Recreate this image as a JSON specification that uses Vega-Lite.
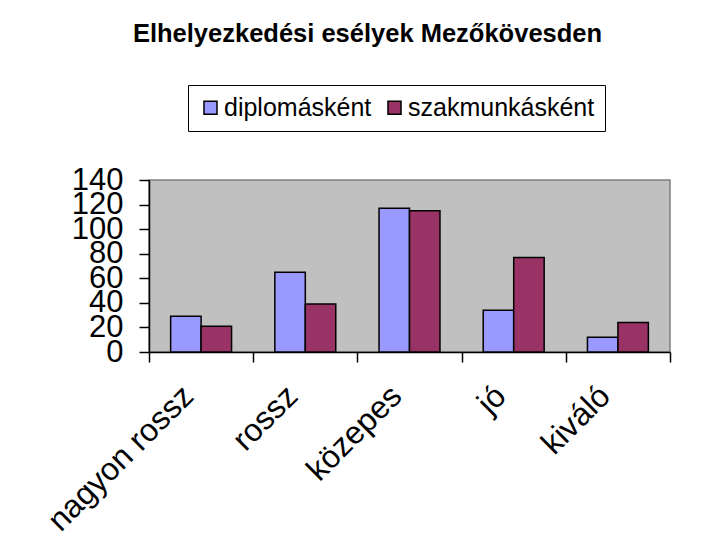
{
  "$schema": "https://vega.github.io/schema/vega-lite/v6.json",
  "width": 521,
  "height": 172,
  "autosize": {"type": "none"},
  "padding": {"left": 149, "top": 180, "right": 54, "bottom": 202},
  "background": "white",
  "title": {
    "text": "Elhelyezkedési esélyek Mezőkövesden",
    "font": "Liberation Sans",
    "fontSize": 25.5,
    "fontWeight": "bold",
    "color": "black",
    "anchor": "middle",
    "baseline": "alphabetic",
    "dx": -42,
    "offset": 17
  },
  "data": {
    "values": [
      {"kategoria": "nagyon rossz", "sorozat": "diplomásként", "ertek": 29},
      {"kategoria": "nagyon rossz", "sorozat": "szakmunkásként", "ertek": 21},
      {"kategoria": "rossz", "sorozat": "diplomásként", "ertek": 65},
      {"kategoria": "rossz", "sorozat": "szakmunkásként", "ertek": 39},
      {"kategoria": "közepes", "sorozat": "diplomásként", "ertek": 117},
      {"kategoria": "közepes", "sorozat": "szakmunkásként", "ertek": 115},
      {"kategoria": "jó", "sorozat": "diplomásként", "ertek": 34},
      {"kategoria": "jó", "sorozat": "szakmunkásként", "ertek": 77},
      {"kategoria": "kiváló", "sorozat": "diplomásként", "ertek": 12},
      {"kategoria": "kiváló", "sorozat": "szakmunkásként", "ertek": 24}
    ]
  },
  "mark": {"type": "bar", "stroke": "black", "strokeWidth": 1.5},
  "encoding": {
    "x": {
      "field": "kategoria",
      "type": "nominal",
      "sort": ["nagyon rossz", "rossz", "közepes", "jó", "kiváló"],
      "scale": {"paddingInner": 0, "paddingOuter": 0},
      "axis": {
        "title": null,
        "tickBand": "extent",
        "labelAngle": -45,
        "labelAlign": "right",
        "labelBaseline": "top",
        "labelFont": "Liberation Sans",
        "labelFontSize": 32,
        "labelColor": "black",
        "labelPadding": 18,
        "labelOffset": -24,
        "labelLimit": 0,
        "labelOverlap": false,
        "labelBound": false,
        "labelFlush": false,
        "domainColor": "black",
        "domainWidth": 1.5,
        "tickColor": "black",
        "tickWidth": 1.5,
        "tickSize": 10
      }
    },
    "xOffset": {
      "field": "sorozat",
      "sort": ["diplomásként", "szakmunkásként"],
      "scale": {"paddingInner": 0, "paddingOuter": 0.71}
    },
    "y": {
      "field": "ertek",
      "type": "quantitative",
      "scale": {"domain": [0, 140], "nice": false},
      "axis": {
        "title": null,
        "values": [0, 20, 40, 60, 80, 100, 120, 140],
        "grid": false,
        "labelFont": "Liberation Sans",
        "labelFontSize": 31,
        "labelColor": "black",
        "labelPadding": 16,
        "labelOverlap": false,
        "labelBound": false,
        "labelFlush": false,
        "domainColor": "black",
        "domainWidth": 1.5,
        "tickColor": "black",
        "tickWidth": 1.5,
        "tickSize": 10
      }
    },
    "color": {
      "field": "sorozat",
      "type": "nominal",
      "scale": {
        "domain": ["diplomásként", "szakmunkásként"],
        "range": ["#9999ff", "#993366"]
      },
      "legend": {
        "title": null,
        "orient": "none",
        "legendX": 39,
        "legendY": -95,
        "direction": "horizontal",
        "strokeColor": "black",
        "fillColor": "white",
        "padding": 10,
        "symbolType": "square",
        "symbolSize": 170,
        "symbolStrokeColor": "black",
        "symbolStrokeWidth": 1.5,
        "labelFont": "Liberation Sans",
        "labelFontSize": 25,
        "labelLimit": 0,
        "labelColor": "black",
        "labelOffset": 1,
        "columnSpacing": 20
      }
    }
  },
  "config": {
    "view": {"fill": "#c0c0c0", "stroke": "#808080", "strokeWidth": 1.5}
  }
}
